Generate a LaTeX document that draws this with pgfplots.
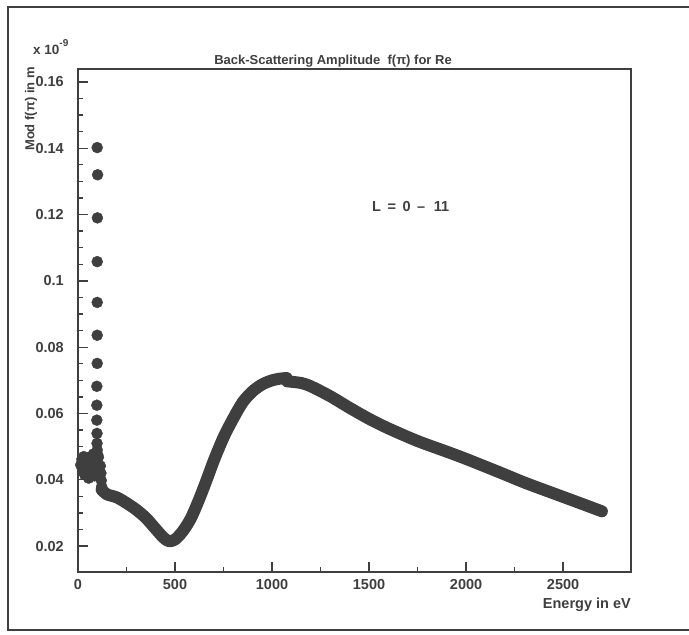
\documentclass[border=0pt]{standalone}
\usepackage{fontspec}
\setmainfont{Liberation Sans}
\usepackage{pgfplots}
\pgfplotsset{compat=1.18}
\definecolor{ink}{HTML}{3F3F3F}
\begin{document}
\begin{tikzpicture}[font=\bfseries]
\useasboundingbox (0,0) rectangle (689pt,635pt);
% outer frame
\draw[ink, line width=1.5pt] (689pt,628pt) -- (8pt,628pt) -- (8pt,5pt) -- (689pt,5pt);
\begin{axis}[
  at={(78pt,63pt)}, anchor=south west,
  scale only axis, width=553pt, height=503pt,
  xmin=0, xmax=2850, ymin=0.0122, ymax=0.1639,
  axis line style={ink, line width=1.5pt},
  tick align=inside, tick pos=left,
  major tick length=10pt, minor tick length=5pt,
  every tick/.style={ink, line width=1.3pt},
  xtick={0,500,1000,1500,2000,2500},
  xticklabels={0,500,1000,1500,2000,2500},
  minor x tick num=1,
  ytick={0.02,0.04,0.06,0.08,0.1,0.12,0.14,0.16},
  yticklabels={0.02,0.04,0.06,0.08,0.1,0.12,0.14,0.16},
  minor y tick num=3,
  /pgf/number format/assume math mode=true,
  tick label style={font=\fontsize{14.5}{16}\bfseries, text=ink, inner sep=0pt},
  yticklabel shift=14pt, xticklabel shift=7pt,
  xlabel={Energy in eV},
  xlabel style={at={(rel axis cs:1,0)}, anchor=north east, yshift=-26pt,
    inner sep=0pt, font=\fontsize{14.5}{16}\bfseries, text=ink},
  clip=false,
]
% single points near 100 eV and the cluster below 130 eV
\addplot[only marks, mark=*, mark size=5.5pt, ink] coordinates {
  (99,0.1402)(101,0.1320)(100,0.1190)(99,0.1058)(99,0.0935)(99,0.0836)
  (99,0.0751)(97,0.0682)(97,0.0625)(97,0.0580)(98,0.0540)(98,0.0510)
  (99,0.0490)(102,0.0475)
  (14,0.0445)(20,0.0462)(25,0.0425)(30,0.0470)(35,0.0415)(40,0.0452)
  (45,0.0432)(50,0.0462)(55,0.0405)(60,0.0442)(65,0.0470)(70,0.0422)
  (75,0.0452)(80,0.0478)(85,0.0412)(90,0.0442)(95,0.0462)(100,0.0432)
  (105,0.0468)(110,0.0415)(115,0.0442)(118,0.0420)(120,0.0398)(122,0.0380)
};
% continuous part of the curve
\addplot[ink, line width=12pt, line cap=round, line join=round, smooth] coordinates {
  (122,0.0370)(150,0.0356)(200,0.0347)(250,0.0330)(300,0.0310)(350,0.0285)
  (400,0.0252)(440,0.0226)(468,0.0215)(500,0.0220)(540,0.0245)(580,0.0282)
  (620,0.0335)(660,0.0395)(700,0.0458)(750,0.0528)(800,0.0585)(850,0.0635)
  (900,0.0667)(950,0.0688)(1000,0.0700)(1040,0.0705)(1075,0.0707)
};
\addplot[ink, line width=12pt, line cap=round, line join=round, smooth] coordinates {
  (1078,0.0697)(1150,0.0692)(1200,0.0682)(1300,0.0652)(1400,0.0617)
  (1500,0.0584)(1600,0.0555)(1750,0.0517)(1900,0.0485)(2000,0.0463)
  (2175,0.0422)(2300,0.0392)(2433,0.0363)(2572,0.0333)(2700,0.0305)
};
\node[anchor=base west, font=\fontsize{14.5}{16}\bfseries, text=ink, inner sep=0pt]
  at (axis cs:1515,0.1209) {L\hspace{0.45em}=\hspace{0.45em}0\hspace{0.45em}--\hspace{0.6em}11};
\end{axis}
\node[anchor=base, font=\fontsize{13}{15}\bfseries, text=ink] at (333pt,570pt)
  {Back-Scattering Amplitude \ f(π) for Re};
\node[anchor=base west, font=\fontsize{13.5}{15}\bfseries, text=ink, inner sep=0pt] at (33pt,580pt)
  {x 10\raisebox{0.6em}{\fontsize{10}{12}\bfseries -9}};
\node[rotate=90, anchor=east, font=\fontsize{13}{15}\bfseries, text=ink, inner sep=0pt] at (31pt,568pt)
  {Mod f(π) in m};
\end{tikzpicture}
\end{document}
